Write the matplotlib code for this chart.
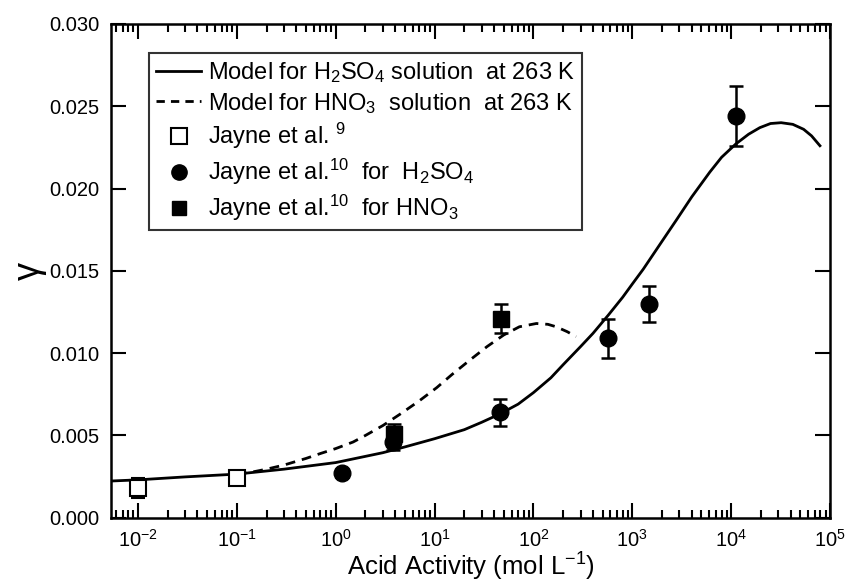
import numpy as np
import matplotlib
matplotlib.use('Agg')
import matplotlib.pyplot as plt
from matplotlib.lines import Line2D
from matplotlib.ticker import FixedLocator, LogLocator, NullFormatter, MultipleLocator, FormatStrFormatter

plt.rcParams['font.family'] = ['Liberation Sans', 'DejaVu Sans']
plt.rcParams['mathtext.default'] = 'regular'
plt.rcParams['axes.unicode_minus'] = False

# Jayne et al. 9 (open squares)
j9_x = [0.01, 0.1]
j9_y = [0.0018, 0.0024]
j9_err = [0.0006, 0.0003]

# Jayne et al. 10, H2SO4 (filled circles)
h2so4_x = [1.16, 3.8, 45.6, 570, 1470, 11100]
h2so4_y = [0.0027, 0.0046, 0.0064, 0.0109, 0.0130, 0.0244]
h2so4_err = [0.0002, 0.0005, 0.0008, 0.0012, 0.0011, 0.0018]

# Jayne et al. 10, HNO3 (filled squares)
hno3_x = [3.9, 47]
hno3_y = [0.0051, 0.0121]
hno3_err = [0.0006, 0.0009]

# model curves
model_h2so4_x = [0.00534, 0.01, 0.03, 0.1, 0.3, 1.0, 3.0, 5.0, 10, 20, 30, 45.6, 70, 100, 150,
                 200, 300, 400, 570, 800, 1000, 1290, 2000, 2800, 4000, 6080, 8000, 11100,
                 15000, 19500, 25000, 32000, 42000, 54000, 65000, 79000]
model_h2so4_y = [0.00223, 0.0023, 0.00248, 0.00265, 0.00295, 0.00335, 0.00395, 0.0043, 0.0048,
                 0.00535, 0.0058, 0.0063, 0.0069, 0.0076, 0.0085, 0.0093, 0.0104, 0.0112,
                 0.0123, 0.0134, 0.0142, 0.0151, 0.0168, 0.0181, 0.0195, 0.021, 0.0219,
                 0.0227, 0.0233, 0.0237, 0.02395, 0.024, 0.0239, 0.0236, 0.0232, 0.0226]
model_hno3_x = [0.1, 0.15, 0.2, 0.3, 0.5, 0.7, 1.0, 1.5, 2.0, 3.0, 4.5, 7, 10.5, 15, 23, 34,
                50, 72, 107, 140, 170, 220, 270]
model_hno3_y = [0.00265, 0.0028, 0.00295, 0.0032, 0.0036, 0.0039, 0.0042, 0.0046, 0.005,
                0.0056, 0.0063, 0.0071, 0.0079, 0.0087, 0.0096, 0.0104, 0.0111, 0.0116,
                0.0118, 0.01175, 0.0116, 0.0113, 0.011]
x_ticks = [1e-2, 1e-1, 1e0, 1e1, 1e2, 1e3, 1e4, 1e5]

fig = plt.figure(figsize=(8.47, 5.84), dpi=100)
ax = fig.add_axes([0.131, 0.1135, 0.849, 0.8455])

ax.plot(model_h2so4_x, model_h2so4_y, 'k-', lw=2)
ax.plot(model_hno3_x, model_hno3_y, 'k--', lw=2, dashes=(3.5, 2.5))

ekw = dict(ecolor='k', elinewidth=1.8, capsize=5, capthick=1.8, ls='none')
ax.errorbar(j9_x, j9_y, yerr=j9_err, marker='s', ms=11, mfc='white', mec='k', mew=1.5, **ekw)
ax.errorbar(h2so4_x, h2so4_y, yerr=h2so4_err, marker='o', ms=12, mfc='k', mec='k', **ekw)
ax.errorbar(hno3_x, hno3_y, yerr=hno3_err, marker='s', ms=11, mfc='k', mec='k', **ekw)

ax.set_xscale('log')
ax.set_xlim(10**-2.273, 1e5)
ax.set_ylim(0, 0.030)
ax.xaxis.set_major_locator(FixedLocator(x_ticks))
ax.xaxis.set_minor_locator(LogLocator(base=10, subs=np.arange(2, 10), numticks=20))
ax.xaxis.set_minor_formatter(NullFormatter())
ax.yaxis.set_major_locator(MultipleLocator(0.005))
ax.yaxis.set_major_formatter(FormatStrFormatter('%.3f'))

ax.tick_params(which='both', direction='in', top=True, right=True, width=1.5, labelsize=14.5)
ax.tick_params(which='major', length=11)
ax.tick_params(axis='x', which='major', pad=8)
ax.tick_params(axis='y', which='major', pad=8)
ax.tick_params(which='minor', length=6)
for s in ax.spines.values():
    s.set_linewidth(1.8)

ax.set_xlabel('Acid Activity (mol L$^{-1}$)', fontsize=18.5, labelpad=0)
ax.set_ylabel('γ', fontsize=26, labelpad=2)

handles = [
    Line2D([], [], color='k', lw=2),
    Line2D([], [], color='k', lw=2, ls='--', dashes=(3.0, 2.2)),
    Line2D([], [], ls='none', marker='s', ms=11, mfc='white', mec='k', mew=1.5),
    Line2D([], [], ls='none', marker='o', ms=11, mfc='k', mec='k'),
    Line2D([], [], ls='none', marker='s', ms=10, mfc='k', mec='k'),
]
labels = [
    'Model for H$_2$SO$_4$ solution  at 263 K',
    'Model for HNO$_3$  solution  at 263 K',
    'Jayne et al. $^{9}$',
    'Jayne et al.$^{10}$  for  H$_2$SO$_4$',
    'Jayne et al.$^{10}$  for HNO$_3$',
]
leg = ax.legend(handles, labels, loc='upper left', bbox_to_anchor=(0.053, 0.941),
                borderaxespad=0, fontsize=17, frameon=True, fancybox=False,
                edgecolor='k', handlelength=1.9, handletextpad=0.3, labelspacing=0.24,
                borderpad=0.3)
leg.get_frame().set_linewidth(1.5)

fig.savefig('out.png', dpi=100)
